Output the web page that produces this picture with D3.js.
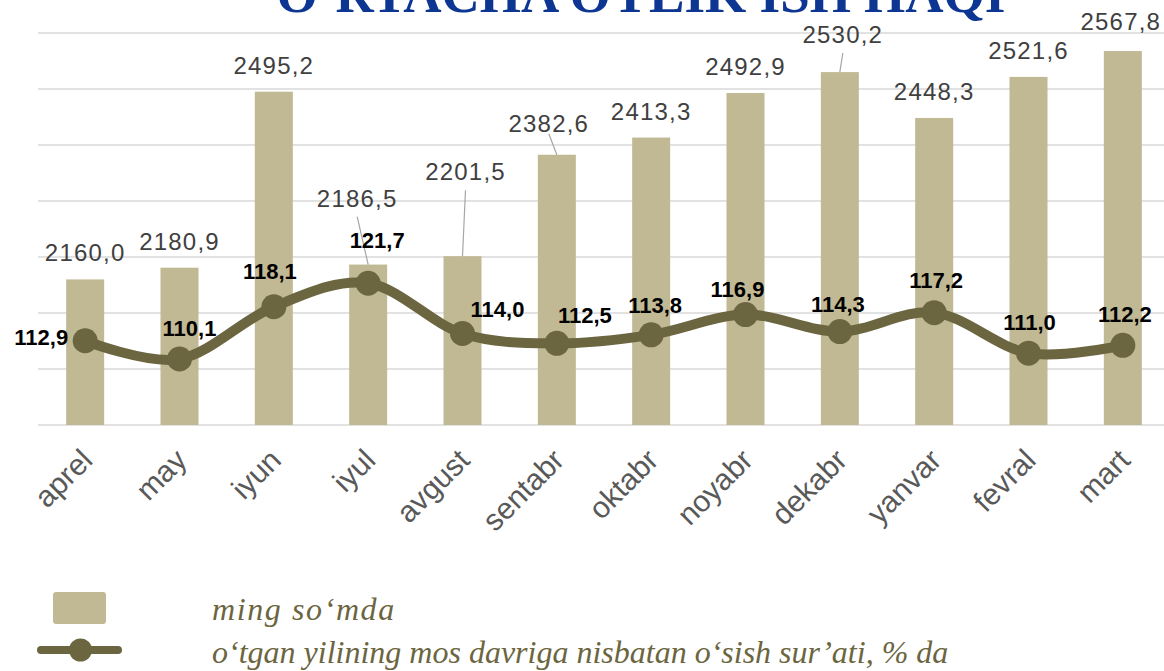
<!DOCTYPE html>
<html>
<head>
<meta charset="utf-8">
<script src="https://cdn.jsdelivr.net/npm/d3@7"></script>
<style>
  html, body { margin: 0; padding: 0; background: #fff; }
  svg { display: block; }
</style>
</head>
<body>
<svg id="chart" width="1164" height="671"></svg>
<script>
// ---- data ----
const months = ["aprel","may","iyun","iyul","avgust","sentabr","oktabr","noyabr","dekabr","yanvar","fevral","mart"];
const wages = [2160.0, 2180.9, 2495.2, 2186.5, 2201.5, 2382.6, 2413.3, 2492.9, 2530.2, 2448.3, 2521.6, 2567.8];
const growth = [112.9, 110.1, 118.1, 121.7, 114.0, 112.5, 113.8, 116.9, 114.3, 117.2, 111.0, 112.2];
const wageTicks = [1900, 2000, 2100, 2200, 2300, 2400, 2500, 2600];
const growthDomain = [100, 160];
const titleText = "O‘RTACHA OYLIK ISH HAQI";
const legendBars = "ming so‘mda";
const legendLine = "o‘tgan yilining mos davriga nisbatan o‘sish sur’ati, % da";

// ---- layout (label nudges, not data) ----
const barLabelNudge = [[0,0],[0,0],[0,0],[-11,-40],[3,-58],[-8,-5],[0,0],[0,0],[3,-11],[0,0],[0,0],[-2,-3]];
const lineLabelNudge = [[-17,4,"end"],[10,-23],[-4,-28],[9,-35],[35,-17],[28,-20],[4,-22],[-8,-18],[-2,-20],[2,-25],[1,-23],[2,-23]];

const C = { bar:"#c1b994", line:"#6b6540", grid:"#d9d9d9", barText:"#404040", axisText:"#595959", title:"#0d3592" };
const fmt = v => d3.format(".1f")(v).replace(".", ",");

const svg = d3.select("#chart");
const plot = { left: 38, right: 1170, top: 33, bottom: 425 };

const x = d3.scaleBand().domain(months).range([plot.left, plot.right]).padding(0);
const yBar = d3.scaleLinear().domain([wageTicks[0], wageTicks[wageTicks.length-1]]).range([plot.bottom, plot.top]);
const yLine = d3.scaleLinear().domain(growthDomain).range([plot.bottom, plot.top]);
const bw = x.bandwidth() * 0.403;
const cx = m => x(m) + x.bandwidth()/2;

// title
svg.append("text").attr("x", 641).attr("y", 12).attr("text-anchor","middle")
  .attr("font-family","Liberation Serif, Times New Roman, serif").attr("font-weight","bold")
  .attr("font-size", 53).attr("fill", C.title).text(titleText);

// gridlines
svg.append("g").selectAll("line").data(wageTicks).join("line")
  .attr("x1", plot.left).attr("x2", 1164)
  .attr("y1", d => yBar(d)).attr("y2", d => yBar(d))
  .attr("stroke", C.grid).attr("stroke-width", 1.6);

// bars
svg.append("g").selectAll("rect").data(months).join("rect")
  .attr("x", (m) => cx(m) - bw/2).attr("width", bw)
  .attr("y", (m,i) => yBar(wages[i])).attr("height", (m,i) => plot.bottom - yBar(wages[i]))
  .attr("fill", C.bar);

// bar labels with leader lines
const barLab = svg.append("g");
months.forEach((m, i) => {
  const top = yBar(wages[i]);
  const [dx, dy] = barLabelNudge[i];
  const lx = cx(m) + dx, ly = top - 18 + dy;
  if (dy < -4) {
    barLab.append("line").attr("x1", lx).attr("y1", ly + (dy < -8 ? 10 : 2))
      .attr("x2", cx(m)).attr("y2", top).attr("stroke", "#a6a6a6").attr("stroke-width", 1.2);
  }
  barLab.append("text").attr("x", lx).attr("y", ly).attr("text-anchor","middle")
    .attr("font-family","Liberation Sans, Arial, sans-serif").attr("font-size", 24)
    .attr("letter-spacing", 1.2).attr("fill", C.barText).text(fmt(wages[i]));
});

// line
const pts = months.map((m, i) => [cx(m), yLine(growth[i])]);
svg.append("path").datum(pts)
  .attr("d", d3.line().curve(d3.curveCardinal.tension(0)))
  .attr("fill","none").attr("stroke", C.line).attr("stroke-width", 10).attr("stroke-linecap","round");
svg.append("g").selectAll("circle").data(pts).join("circle")
  .attr("cx", d => d[0]).attr("cy", d => d[1]).attr("r", 12.5).attr("fill", C.line);

// line labels
svg.append("g").selectAll("text").data(months).join("text")
  .attr("x", (m,i) => pts[i][0] + lineLabelNudge[i][0])
  .attr("y", (m,i) => pts[i][1] + lineLabelNudge[i][1])
  .attr("text-anchor", (m,i) => lineLabelNudge[i][2] || "middle")
  .attr("font-family","Liberation Sans, Arial, sans-serif").attr("font-weight","bold")
  .attr("font-size", 22).attr("fill", "#000").text((m,i) => fmt(growth[i]));

// x axis labels
svg.append("g").selectAll("text").data(months).join("text")
  .attr("transform", m => `translate(${cx(m)+9},${462}) rotate(-45)`)
  .attr("text-anchor","end")
  .attr("font-family","Liberation Sans, Arial, sans-serif").attr("font-size", 30)
  .attr("fill", C.axisText).text(m => m);

// legend
const lg = svg.append("g");
lg.append("rect").attr("x", 53).attr("y", 592).attr("width", 53).attr("height", 32).attr("rx", 3).attr("fill", C.bar);
lg.append("line").attr("x1", 41).attr("x2", 118).attr("y1", 650).attr("y2", 650)
  .attr("stroke", C.line).attr("stroke-width", 8).attr("stroke-linecap","round");
lg.append("circle").attr("cx", 80.5).attr("cy", 650).attr("r", 11.5).attr("fill", C.line);
lg.append("text").attr("x", 212).attr("y", 620).attr("font-family","Liberation Serif, Times New Roman, serif")
  .attr("font-style","italic").attr("font-size", 32).attr("letter-spacing", 1.6).attr("fill", C.line).text(legendBars);
lg.append("text").attr("x", 212).attr("y", 663).attr("font-family","Liberation Serif, Times New Roman, serif")
  .attr("font-style","italic").attr("font-size", 32).attr("fill", C.line).text(legendLine);
</script>
</body>
</html>
